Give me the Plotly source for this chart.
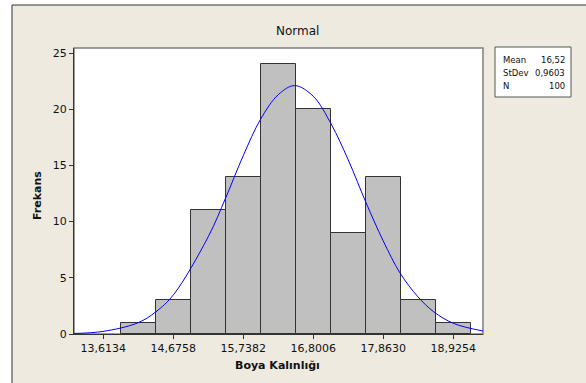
import plotly.graph_objects as go

# ---- data ----
bin_centers = [14.1446, 14.6758, 15.2070, 15.7382, 16.2694, 16.8006, 17.3318, 17.8630, 18.3942, 18.9254]
frequencies = [1, 3, 11, 14, 24, 20, 9, 14, 3, 1]
bin_width = 0.5312

curve_x = [13.17, 13.61, 14.14, 14.41, 14.68, 15.21, 15.47, 15.74, 16.00, 16.27, 16.52,
           16.80, 17.07, 17.33, 17.60, 17.86, 18.12, 18.39, 18.63, 18.93, 19.38]
curve_y = [0.05, 0.23, 1.0, 1.97, 3.5, 8.7, 12.1, 15.9, 19.1, 21.3, 22.1,
           21.15, 18.7, 15.5, 11.7, 8.3, 5.4, 3.3, 1.97, 0.94, 0.26]

x_tickvals = [13.6134, 14.6758, 15.7382, 16.8006, 17.8630, 18.9254]
x_ticktext = ["13,6134", "14,6758", "15,7382", "16,8006", "17,8630", "18,9254"]
y_tickvals = [0, 5, 10, 15, 20, 25]

stat_labels = ["Mean", "StDev", "N"]
stat_values = ["16,52", "0,9603", "100"]

# ---- layout geometry (pixels) ----
W, H = 586, 383
L, R, T, B = 74, 483, 48, 334
pw, ph = R - L, B - T


def px(p):
    return (p - L) / pw


def py(p):
    return (B - p) / ph


FONT = "DejaVu Sans"
BEIGE = "#EEEAE0"
DARK = "#333333"

fig = go.Figure()

fig.add_trace(go.Bar(
    x=bin_centers, y=frequencies, width=bin_width,
    marker=dict(color="#C0C0C0", line=dict(color=DARK, width=1)),
    showlegend=False, hoverinfo="x+y",
))

fig.add_trace(go.Scatter(
    x=curve_x, y=curve_y, mode="lines",
    line=dict(color="#0000FF", width=1, shape="spline", smoothing=1.0),
    showlegend=False, cliponaxis=True,
))

shapes = [
    # beige graph region with dark top/left border
    dict(type="rect", xref="paper", yref="paper", x0=px(12), x1=px(620), y0=py(420), y1=py(5),
         fillcolor=BEIGE, line=dict(color=DARK, width=1), layer="below"),
    # white plot area with gray frame
    dict(type="rect", xref="paper", yref="paper", x0=0, x1=1, y0=0, y1=1,
         fillcolor="white", line=dict(color="#7F7F7F", width=1.5), layer="below"),
    # stats box
    dict(type="rect", xref="paper", yref="paper", x0=px(495), x1=px(571), y0=py(97), y1=py(47),
         fillcolor="white", line=dict(color="#555555", width=1), layer="below"),
]

annotations = [
    dict(text="Normal", x=px(297), y=py(31), xref="paper", yref="paper", showarrow=False,
         xanchor="center", yanchor="middle", font=dict(family=FONT, size=12, color="#111")),
    dict(text="<b>Boya Kalınlığı</b>", x=px(277), y=py(365), xref="paper", yref="paper", showarrow=False,
         xanchor="center", yanchor="middle", font=dict(family=FONT, size=11, color="#111")),
    dict(text="<b>Frekans</b>", x=px(37), y=py(196), xref="paper", yref="paper", showarrow=False,
         textangle=-90, xanchor="center", yanchor="middle", font=dict(family=FONT, size=11, color="#111")),
]
rows_y = [60, 73, 86]
for lab, val, ry in zip(stat_labels, stat_values, rows_y):
    annotations.append(dict(text=lab, x=px(501), y=py(ry), xref="paper", yref="paper", showarrow=False,
                            xanchor="left", yanchor="middle", font=dict(family=FONT, size=8.5, color="#111")))
    annotations.append(dict(text=val, x=px(567), y=py(ry), xref="paper", yref="paper", showarrow=False,
                            xanchor="right", yanchor="middle", font=dict(family=FONT, size=8.5, color="#111")))

fig.update_layout(
    width=W, height=H,
    margin=dict(l=L, r=W - R, t=T, b=H - B, pad=0),
    paper_bgcolor="white", plot_bgcolor="rgba(0,0,0,0)",
    bargap=0, shapes=shapes, annotations=annotations,
    font=dict(family=FONT, size=11, color="#111"),
    xaxis=dict(range=[13.169, 19.376], tickvals=x_tickvals, ticktext=x_ticktext,
               ticks="outside", ticklen=4, tickcolor=DARK, showgrid=False, zeroline=False,
               showline=True, linecolor=DARK, linewidth=1, tickfont=dict(family=FONT, size=11)),
    yaxis=dict(range=[0, 25.445], tickvals=y_tickvals, ticks="outside", ticklen=4, tickcolor=DARK,
               showgrid=False, zeroline=False, showline=True, linecolor=DARK, linewidth=1,
               tickfont=dict(family=FONT, size=11)),
)

fig.write_html("out.html")
